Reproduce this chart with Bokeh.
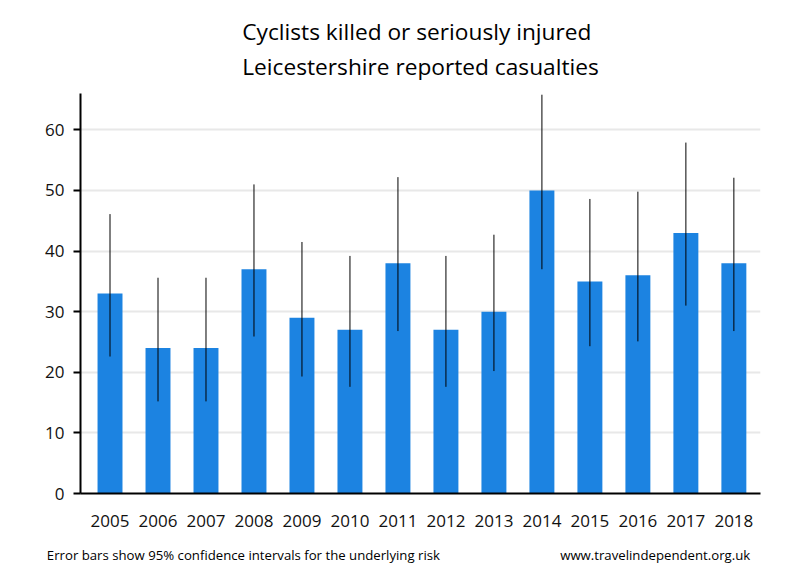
from bokeh.plotting import figure
from bokeh.models import ColumnDataSource, Range1d, FixedTicker, Title, LinearAxis
from bokeh.embed import file_html
from bokeh.resources import INLINE

years = ["2005", "2006", "2007", "2008", "2009", "2010", "2011",
         "2012", "2013", "2014", "2015", "2016", "2017", "2018"]
casualties = [33, 24, 24, 37, 29, 27, 38, 27, 30, 50, 35, 36, 43, 38]
ci_lower = [22.6, 15.2, 15.2, 25.9, 19.3, 17.6, 26.8, 17.6, 20.2, 37.0, 24.3, 25.1, 31.0, 26.8]
ci_upper = [46.1, 35.6, 35.6, 51.0, 41.5, 39.2, 52.2, 39.2, 42.7, 65.8, 48.6, 49.8, 57.9, 52.1]
y_ticks = [0, 10, 20, 30, 40, 50, 60]

title_lines = ["Cyclists killed or seriously injured", "Leicestershire reported casualties"]
footer_left = "Error bars show 95% confidence intervals for the underlying risk"
footer_right = "www.travelindependent.org.uk"

FONT = "Open Sans"
idx = list(range(len(years)))
src = ColumnDataSource(dict(x=idx, top=casualties, lo=ci_lower, hi=ci_upper))

p = figure(width=784, height=570, output_backend="svg", toolbar_location=None,
           x_range=Range1d(-0.615, 13.555), y_range=Range1d(0, 66),
           min_border_left=80, min_border_right=24, min_border_top=93, min_border_bottom=77)
p.outline_line_color = None
p.background_fill_color = "white"

p.vbar(x="x", top="top", width=0.52, bottom=0, source=src, fill_color="#1c83e1", line_color=None)
p.segment(x0="x", y0="lo", x1="x", y1="hi", source=src, line_color="black", line_width=1)

p.xgrid.grid_line_color = None
p.ygrid.grid_line_color = "#e8e8e8"
p.ygrid.grid_line_width = 2
p.ygrid.ticker = FixedTicker(ticks=y_ticks)

ya = p.yaxis[0]
ya.ticker = FixedTicker(ticks=y_ticks)
ya.axis_line_width = 2
ya.axis_line_color = "black"
ya.major_tick_line_width = 2
ya.major_tick_out = 7
ya.major_tick_in = 0
ya.minor_tick_line_color = None
ya.major_label_text_font = FONT
ya.major_label_text_font_size = "17px"
ya.major_label_text_color = "#111111"
ya.major_label_standoff = 9

xa = p.xaxis[0]
xa.ticker = FixedTicker(ticks=idx)
xa.major_label_overrides = {i: y for i, y in zip(idx, years)}
xa.axis_line_width = 2
xa.axis_line_color = "black"
xa.major_tick_line_color = None
xa.major_tick_out = 0
xa.major_tick_in = 0
xa.minor_tick_line_color = None
xa.major_label_text_font = FONT
xa.major_label_text_font_size = "17px"
xa.major_label_text_color = "#111111"
xa.major_label_standoff = 21

# footer line: an extra, line-less axis below carrying the two notes
FOOT_LEFT_POS = 2.78
FOOT_RIGHT_POS = 11.36
fa = LinearAxis(ticker=FixedTicker(ticks=[FOOT_LEFT_POS, FOOT_RIGHT_POS]),
                major_label_overrides={FOOT_LEFT_POS: footer_left, FOOT_RIGHT_POS: footer_right})
fa.axis_line_color = None
fa.major_tick_line_color = None
fa.minor_tick_line_color = None
fa.major_tick_out = 0
fa.major_tick_in = 0
fa.major_label_text_font = FONT
fa.major_label_text_font_size = "13.2px"
fa.major_label_text_color = "black"
fa.major_label_standoff = 16
p.add_layout(fa, "below")

# header: one centred two-line title
t = Title(text="\n".join(title_lines), align="center", text_font=FONT, text_font_size="22.7px",
          text_font_style="normal", text_color="black", text_line_height=1.15, standoff=22)
p.add_layout(t, "above")

open("out.html", "w").write(file_html(p, INLINE))
